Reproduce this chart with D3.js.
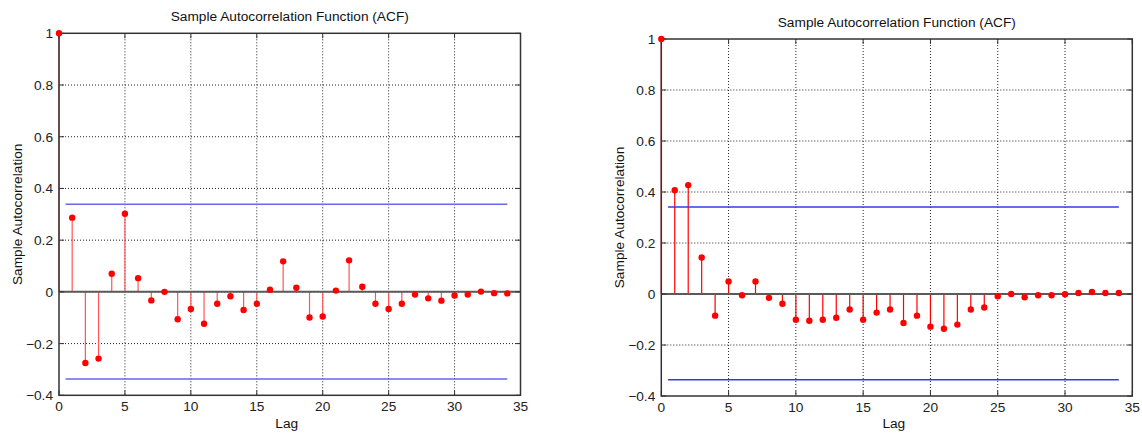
<!DOCTYPE html>
<html>
<head>
<meta charset="utf-8">
<script src="https://cdn.jsdelivr.net/npm/d3@7"></script>
<style>
  body { margin: 0; background: #fff; }
  svg { display: block; font-family: "Liberation Sans", Arial, sans-serif; }
</style>
</head>
<body>
<svg id="chart" width="1142" height="437"></svg>
<script>
// lags 0..34
const lags = d3.range(0, 35);

// left panel ACF values
const acfLeft = [1, 0.287, -0.275, -0.258, 0.070, 0.302, 0.053, -0.033, 0.000, -0.106,
  -0.066, -0.123, -0.046, -0.017, -0.070, -0.046, 0.008, 0.118, 0.016, -0.099,
  -0.095, 0.005, 0.122, 0.020, -0.046, -0.066, -0.046, -0.010, -0.025, -0.034,
  -0.014, -0.010, 0.001, -0.005, -0.006];

// right panel ACF values
const acfRight = [1, 0.407, 0.427, 0.143, -0.085, 0.049, -0.005, 0.049, -0.015, -0.038,
  -0.101, -0.105, -0.101, -0.093, -0.061, -0.101, -0.073, -0.061, -0.114, -0.085,
  -0.128, -0.136, -0.120, -0.061, -0.053, -0.009, 0.000, -0.013, -0.005, -0.005,
  -0.001, 0.004, 0.008, 0.004, 0.004];

// confidence bounds [upper, lower] and the lag range they span
const boundsLeft = [0.339, -0.337];
const boundsRight = [0.341, -0.336];
const boundSpan = [0.5, 34];

const xTicks = [0, 5, 10, 15, 20, 25, 30, 35];
const yTicks = [-0.4, -0.2, 0, 0.2, 0.4, 0.6, 0.8, 1];

const title = "Sample Autocorrelation Function (ACF)";
const yTitle = "Sample Autocorrelation";
const xTitle = "Lag";

const svg = d3.select("#chart");
const fs = 13.7;

function drawPanel(cfg) {
  const x = d3.scaleLinear().domain([0, 35]).range([cfg.left, cfg.right]);
  const y = d3.scaleLinear().domain([-0.4, 1]).range([cfg.bottom, cfg.top]);
  const g = svg.append("g");

  // dotted grid
  g.selectAll(".gx").data(xTicks.slice(1, -1)).enter().append("line")
      .attr("x1", d => x(d)).attr("x2", d => x(d))
      .attr("y1", cfg.top).attr("y2", cfg.bottom)
      .attr("stroke", "#222").attr("stroke-width", 1)
      .attr("stroke-dasharray", "1,2");
  g.selectAll(".gy").data(yTicks.slice(1, -1)).enter().append("line")
      .attr("x1", cfg.left).attr("x2", cfg.right)
      .attr("y1", d => y(d)).attr("y2", d => y(d))
      .attr("stroke", "#222").attr("stroke-width", 1)
      .attr("stroke-dasharray", "1,2");

  // stems
  g.selectAll(".stem").data(lags).enter().append("line")
      .attr("x1", d => x(d)).attr("x2", d => x(d))
      .attr("y1", y(0)).attr("y2", d => y(cfg.data[d]))
      .attr("stroke", cfg.stem).attr("stroke-width", 1.2);

  // zero line
  g.append("line")
      .attr("x1", cfg.left).attr("x2", cfg.right)
      .attr("y1", y(0)).attr("y2", y(0))
      .attr("stroke", "#5a5a5a").attr("stroke-width", 2);

  // confidence bounds
  g.selectAll(".bound").data(cfg.bounds).enter().append("line")
      .attr("x1", x(boundSpan[0])).attr("x2", x(boundSpan[1]))
      .attr("y1", d => y(d)).attr("y2", d => y(d))
      .attr("stroke", cfg.blue).attr("stroke-width", 1.5);

  // axis box + inward ticks
  g.append("rect")
      .attr("x", cfg.left).attr("y", cfg.top)
      .attr("width", cfg.right - cfg.left).attr("height", cfg.bottom - cfg.top)
      .attr("fill", "none").attr("stroke", "#333").attr("stroke-width", 1.5);
  const tl = 5;
  xTicks.forEach(t => {
    g.append("line").attr("x1", x(t)).attr("x2", x(t))
        .attr("y1", cfg.bottom).attr("y2", cfg.bottom - tl).attr("stroke", "#333");
    g.append("line").attr("x1", x(t)).attr("x2", x(t))
        .attr("y1", cfg.top).attr("y2", cfg.top + tl).attr("stroke", "#333");
  });
  yTicks.forEach(t => {
    g.append("line").attr("x1", cfg.left).attr("x2", cfg.left + tl)
        .attr("y1", y(t)).attr("y2", y(t)).attr("stroke", "#333");
    g.append("line").attr("x1", cfg.right).attr("x2", cfg.right - tl)
        .attr("y1", y(t)).attr("y2", y(t)).attr("stroke", "#333");
  });

  // markers
  g.selectAll(".dot").data(lags).enter().append("circle")
      .attr("cx", d => x(d)).attr("cy", d => y(cfg.data[d]))
      .attr("r", 3.2).attr("fill", "#f00");

  // tick labels
  g.selectAll(".xl").data(xTicks).enter().append("text")
      .attr("x", d => x(d)).attr("y", cfg.bottom + 16)
      .attr("text-anchor", "middle").attr("font-size", fs).attr("fill", "#222")
      .text(d => d);
  g.selectAll(".yl").data(yTicks).enter().append("text")
      .attr("x", cfg.left - 6).attr("y", d => y(d) + 5)
      .attr("text-anchor", "end").attr("font-size", fs).attr("fill", "#222")
      .text(d => d3.format("")(+d.toFixed(1)));

  // titles
  g.append("text")
      .attr("x", (cfg.left + cfg.right) / 2).attr("y", cfg.top - 12)
      .attr("text-anchor", "middle").attr("font-size", fs).attr("fill", "#111")
      .text(title);
  g.append("text")
      .attr("x", (cfg.left + cfg.right) / 2 - 3).attr("y", 428)
      .attr("text-anchor", "middle").attr("font-size", fs).attr("fill", "#111")
      .text(xTitle);
  g.append("text")
      .attr("transform", `translate(${cfg.left - 37},${(cfg.top + cfg.bottom) / 2}) rotate(-90)`)
      .attr("text-anchor", "middle").attr("font-size", fs).attr("fill", "#111")
      .text(yTitle);
}

drawPanel({ left: 59, right: 520.5, top: 33.3, bottom: 395.3,
  data: acfLeft, bounds: boundsLeft, stem: "#f55", blue: "#6666ee" });
drawPanel({ left: 661.3, right: 1132.3, top: 39, bottom: 396,
  data: acfRight, bounds: boundsRight, stem: "#f00", blue: "#3838e8" });
</script>
</body>
</html>
